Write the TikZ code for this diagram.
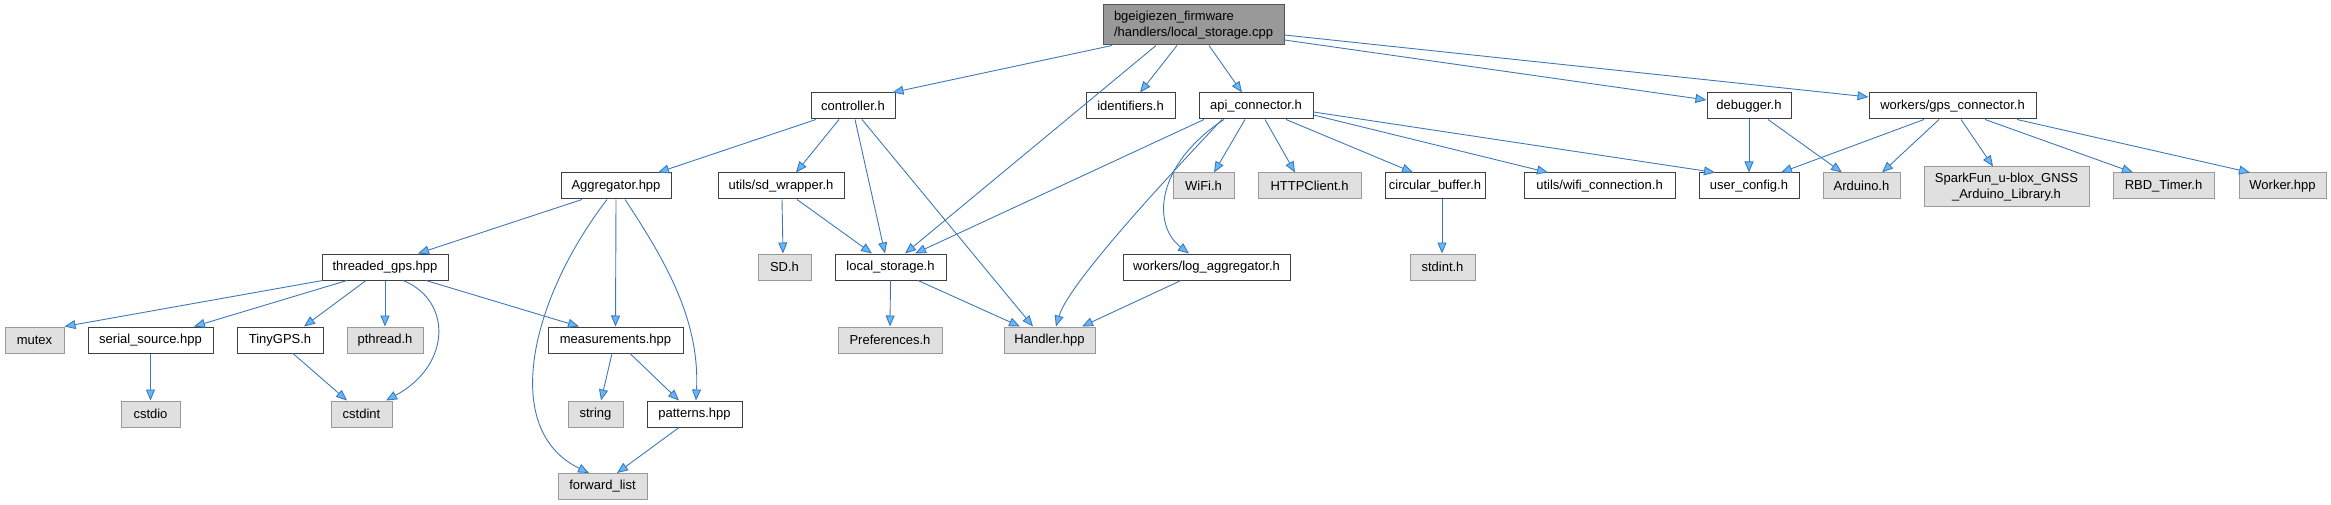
\documentclass[tikz,border=0pt]{standalone}
\usepackage{fontspec}
\setmainfont{Liberation Sans}
\usetikzlibrary{arrows.meta}
\definecolor{edgec}{HTML}{3F78B8}
\definecolor{headc}{HTML}{63B8FF}
\definecolor{extfill}{HTML}{E0E0E0}
\definecolor{extdraw}{HTML}{999999}
\definecolor{docdraw}{HTML}{404040}
\definecolor{rootfill}{HTML}{999999}
\definecolor{rootdraw}{HTML}{555555}
\begin{document}
\begin{tikzpicture}[x=1pt,y=-1pt,
  base/.style={rectangle, inner sep=0pt, line width=1pt, font=\fontsize{13}{16}\selectfont, minimum height=26pt},
  doc/.style={base, draw=docdraw, fill=white},
  ext/.style={base, draw=extdraw, fill=extfill},
  rootbox/.style={base, draw=rootdraw, fill=rootfill, align=left},
  dep/.style={draw=edgec, line width=0.9pt, -{Triangle[length=11pt,width=9pt,fill=headc]}},
]
\useasboundingbox (0,0) rectangle (2331,505);
% root
\node[rootbox, minimum width=181pt, minimum height=40pt] (root) at (1193.5,25) {bgeigiezen\_firmware\\/handlers/local\_storage.cpp};
% row 1
\node[doc, minimum width=84pt]  (controller)  at (853,106)    {controller.h};
\node[doc, minimum width=89pt]  (identifiers) at (1130.5,106) {identifiers.h};
\node[doc, minimum width=114pt] (api)         at (1256,106)   {api\_connector.h};
\node[doc, minimum width=84pt]  (debugger)    at (1749,106)   {debugger.h};
\node[doc, minimum width=167pt] (gpsconn)     at (1952.5,106) {workers/gps\_connector.h};
% row 2
\node[doc, minimum width=110pt] (aggregator)  at (616,186)    {Aggregator.hpp};
\node[doc, minimum width=126pt] (sdwrapper)   at (781,186)    {utils/sd\_wrapper.h};
\node[ext, minimum width=61pt]  (wifi)        at (1203.5,186) {WiFi.h};
\node[ext, minimum width=103pt] (httpclient)  at (1309.5,186) {HTTPClient.h};
\node[doc, minimum width=100pt] (circbuf)     at (1435,186)   {circular\_buffer.h};
\node[doc, minimum width=151pt] (wificonn)    at (1599.5,186) {utils/wifi\_connection.h};
\node[doc, minimum width=100pt] (userconfig)  at (1749,186)   {user\_config.h};
\node[ext, minimum width=77pt]  (arduino)     at (1861.5,186) {Arduino.h};
\node[ext, minimum width=165pt, minimum height=40pt, align=center] (sparkfun) at (2006.5,187) {SparkFun\_u-blox\_GNSS\\\_Arduino\_Library.h};
\node[ext, minimum width=101pt] (rbd)         at (2163.5,186) {RBD\_Timer.h};
\node[ext, minimum width=87pt]  (worker)      at (2282.5,186) {Worker.hpp};
% row 3
\node[doc, minimum width=126pt] (threaded)    at (385,267)    {threaded\_gps.hpp};
\node[ext, minimum width=53pt]  (sd)          at (784.5,267)  {SD.h};
\node[doc, minimum width=111pt] (localstorage) at (890.5,267) {local\_storage.h};
\node[doc, minimum width=167pt] (logagg)      at (1206.5,267) {workers/log\_aggregator.h};
\node[ext, minimum width=65pt]  (stdint)      at (1442.5,267) {stdint.h};
% row 4
\node[ext, minimum width=59pt]  (mutex)       at (34.5,340)   {mutex};
\node[doc, minimum width=125pt] (serial)      at (150.5,340)  {serial\_source.hpp};
\node[doc, minimum width=86pt]  (tinygps)     at (280,340)    {TinyGPS.h};
\node[ext, minimum width=76pt]  (pthread)     at (385,340)    {pthread.h};
\node[doc, minimum width=135pt] (measurements) at (615.5,340) {measurements.hpp};
\node[ext, minimum width=104pt] (preferences) at (890,340)    {Preferences.h};
\node[ext, minimum width=91pt]  (handler)     at (1049.5,340) {Handler.hpp};
% row 5
\node[ext, minimum width=59pt]  (cstdio)      at (150.5,414)  {cstdio};
\node[ext, minimum width=61pt]  (cstdint)     at (361.5,414)  {cstdint};
\node[ext, minimum width=55pt]  (string)      at (595.5,414)  {string};
\node[doc, minimum width=95pt]  (patterns)    at (694.5,414)  {patterns.hpp};
% row 6
\node[ext, minimum width=89pt]  (forwardlist) at (602.5,486.5) {forward\_list};

% edges from root
\draw[dep] ([xshift=-81.5pt]root.south) -- ([xshift=-3pt]controller.north east);
\draw[dep] ([xshift=-37.5pt]root.south) -- ([xshift=14.5pt]localstorage.north);
\draw[dep] ([xshift=-16.5pt]root.south) -- ([xshift=9.5pt]identifiers.north);
\draw[dep] ([xshift=15.5pt]root.south) -- ([xshift=-14pt]api.north);
\draw[dep] ([yshift=-15pt]root.east) -- ([yshift=6pt]debugger.west);
\draw[dep] ([yshift=-10pt]root.east) -- ([yshift=9pt]gpsconn.west);
% controller
\draw[dep] ([xshift=-37pt]controller.south) -- ([xshift=42pt]aggregator.north);
\draw[dep] ([xshift=-14pt]controller.south) -- ([xshift=15pt]sdwrapper.north);
\draw[dep] ([xshift=2pt]controller.south) -- ([xshift=-5.5pt]localstorage.north);
\draw[dep] ([xshift=9pt]controller.south) -- ([xshift=-16.5pt]handler.north);
% api
\draw[dep] ([xshift=-52pt]api.south) -- ([xshift=24.5pt]localstorage.north);
\draw[dep] ([xshift=-34pt]api.south) .. controls (1160,185) and (1068,285) .. ([xshift=6.5pt]handler.north);
\draw[dep] ([xshift=-32pt]api.south) .. controls (1155,165) and (1152,225) .. ([xshift=-17.5pt]logagg.north);
\draw[dep] ([xshift=-11pt]api.south) -- ([xshift=10.5pt]wifi.north);
\draw[dep] ([xshift=9pt]api.south) -- ([xshift=-14.5pt]httpclient.north);
\draw[dep] ([xshift=30pt]api.south) -- ([xshift=-22pt]circbuf.north);
\draw[dep] ([yshift=-9pt]api.east) -- ([xshift=-51.5pt]wificonn.north);
\draw[dep] ([yshift=-6pt]api.east) -- ([xshift=-34pt]userconfig.north);
% debugger
\draw[dep] (debugger.south) -- (userconfig.north);
\draw[dep] ([xshift=19pt]debugger.south) -- ([xshift=-19.5pt]arduino.north);
% gps connector
\draw[dep] ([xshift=-28.5pt]gpsconn.south) -- ([xshift=32pt]userconfig.north);
\draw[dep] ([xshift=-13.5pt]gpsconn.south) -- ([xshift=20.5pt]arduino.north);
\draw[dep] ([xshift=8.5pt]gpsconn.south) -- ([xshift=-13.5pt]sparkfun.north);
\draw[dep] ([xshift=32.5pt]gpsconn.south) -- ([xshift=-30.5pt]rbd.north);
\draw[dep] ([xshift=64.5pt]gpsconn.south) -- ([xshift=-32.5pt]worker.north);
% aggregator
\draw[dep] ([xshift=-34pt]aggregator.south) -- ([xshift=33pt]threaded.north);
\draw[dep] ([xshift=-9pt]aggregator.south) .. controls (530,300) and (500,430) .. ([xshift=-13.5pt]forwardlist.north);
\draw[dep] (aggregator.south) -- (measurements.north);
\draw[dep] ([xshift=9pt]aggregator.south) .. controls (665,260) and (700,320) .. ([xshift=1.5pt]patterns.north);
% sd wrapper
\draw[dep] ([xshift=1pt]sdwrapper.south) -- ([xshift=-1.5pt]sd.north);
\draw[dep] ([xshift=16pt]sdwrapper.south) -- ([xshift=-18.5pt]localstorage.north);
% threaded gps
\draw[dep] ([xshift=1pt]threaded.south west) -- (mutex.north east);
\draw[dep] ([xshift=-38pt]threaded.south) -- ([xshift=43.5pt]serial.north);
\draw[dep] ([xshift=-19pt]threaded.south) -- ([xshift=24pt]tinygps.north);
\draw[dep] (threaded.south) -- (pthread.north);
\draw[dep] ([xshift=18pt]threaded.south) .. controls (452,300) and (452,365) .. ([xshift=24.5pt]cstdint.north);
\draw[dep] ([xshift=41pt]threaded.south) -- ([xshift=-36.5pt]measurements.north);
% lower levels
\draw[dep] (serial.south) -- (cstdio.north);
\draw[dep] ([xshift=13pt]tinygps.south) -- ([xshift=-14.5pt]cstdint.north);
\draw[dep] ([xshift=-3.5pt]measurements.south) -- ([xshift=5.5pt]string.north);
\draw[dep] ([xshift=14.5pt]measurements.south) -- ([xshift=-15.5pt]patterns.north);
\draw[dep] ([xshift=-15.5pt]patterns.south) -- ([xshift=14.5pt]forwardlist.north);
\draw[dep] (localstorage.south) -- (preferences.north);
\draw[dep] ([xshift=27.5pt]localstorage.south) -- ([xshift=-29.5pt]handler.north);
\draw[dep] ([xshift=-25.5pt]logagg.south) -- ([xshift=32.5pt]handler.north);
\draw[dep] ([xshift=7pt]circbuf.south) -- ([xshift=-0.5pt]stdint.north);
\end{tikzpicture}
\end{document}
